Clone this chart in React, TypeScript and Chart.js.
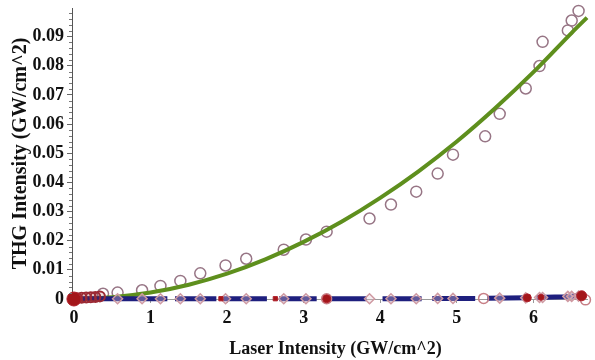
import React, { useEffect, useRef } from "react";
import { Chart, registerables } from "chart.js";

Chart.register(...registerables);

// ---- data ----
const xTickValues = [0, 1, 2, 3, 4, 5, 6];
const yTickValues = [0, 0.01, 0.02, 0.03, 0.04, 0.05, 0.06, 0.07, 0.08, 0.09];
const yTickLabels = ["0", "0.01", "0.02", "0.03", "0.04", "0.05", "0.06", "0.07", "0.08", "0.09"];
const yMinorStep = 0.002;
const xTitle = "Laser Intensity (GW/cm^2)";
const yTitle = "THG Intensity (GW/cm^2)";

// measured THG (open circles)
const measuredX = [0.38, 0.57, 0.89, 1.13, 1.39, 1.65, 1.98, 2.25, 2.74, 3.03, 3.3, 3.86, 4.14, 4.47, 4.75, 4.95, 5.37, 5.56, 5.9, 6.08, 6.12, 6.45, 6.5, 6.59];
const measuredY = [0.0018, 0.0022, 0.003, 0.0045, 0.0062, 0.0088, 0.0115, 0.0138, 0.0169, 0.0204, 0.0231, 0.0276, 0.0324, 0.0368, 0.043, 0.0495, 0.0558, 0.0635, 0.0722, 0.0799, 0.0882, 0.0921, 0.0955, 0.0988];

// fitted curve (green)
const fitX = [0, 0.5, 1, 1.5, 2, 2.5, 3, 3.5, 4, 4.5, 5, 5.5, 6, 6.5, 6.7];
const fitY = [0, 0.0006, 0.0022, 0.0049, 0.0087, 0.0136, 0.0196, 0.0266, 0.0347, 0.0438, 0.054, 0.0654, 0.0778, 0.0913, 0.0965];

// second series (blue line, with gaps)
const blueX = [0, 0.6, 1.22, 1.27, 1.32, 1.86, 1.9, 1.95, 2.52, 2.6, 2.68, 3.17, 3.25, 3.33, 3.82, 3.92, 4.03, 4.54, 4.6, 4.68, 5.24, 5.32, 5.4, 5.92, 5.98, 6.04, 6.4, 6.68];
const blueY = [0.0001, 0.0001, 0.0001, null, 0.0001, 0.0001, null, 0.0001, 0.0001, null, 0.0001, 0.0001, null, 0.0001, 0.0001, null, 0.0001, 0.0001, null, 0.0002, 0.0002, null, 0.0003, 0.0004, null, 0.0005, 0.0008, 0.0013];

// diamonds on the blue series
const diamondX = [0.57, 0.89, 1.13, 1.39, 1.65, 1.98, 2.25, 2.74, 3.03, 3.86, 4.14, 4.47, 4.75, 4.95, 5.56, 5.9, 6.08, 6.12, 6.45, 6.5, 6.59];
const diamondY = [0.0001, 0.0001, 0.0001, 0.0001, 0.0001, 0.0001, 0.0001, 0.0001, 0.0001, 0.0001, 0.0001, 0.0001, 0.0002, 0.0002, 0.0003, 0.0004, 0.0005, 0.0005, 0.0009, 0.0009, 0.001];

// red markers
const redX = [0, 1.92, 2.63, 3.3, 5.92, 6.1, 6.63];
const redY = [0, 0.0001, 0.0001, 0.0001, 0.0004, 0.0006, 0.0011];
const redRadius = [7, 3, 3, 4, 4, 3, 5];
const redStyle = ["circle", "rect", "rect", "circle", "circle", "circle", "circle"];

// dark-red cluster near the origin
const clusterX = [0.04, 0.1, 0.16, 0.22, 0.28, 0.34];
const clusterY = [0.0003, 0.0004, 0.0005, 0.0006, 0.0007, 0.0009];

// open circles on the baseline
const openX = [3.3, 5.35, 6.68];
const openY = [0.0001, 0.0002, -0.0003];

const toPts = (xs: number[], ys: (number | null)[]) => xs.map((x, i) => ({ x, y: ys[i] }));

const FONT = "'Liberation Serif', 'Times New Roman', serif";

const minorTicks = {
  id: "minorTicks",
  afterDraw(chart: any) {
    const y = chart.scales.y;
    const x = chart.scales.x;
    const ctx = chart.ctx;
    ctx.save();
    ctx.strokeStyle = "#777";
    ctx.lineWidth = 1;
    const n = Math.floor(y.max / yMinorStep + 1e-9);
    for (let i = 1; i <= n; i++) {
      if (i % 5 === 0) continue;
      const py = Math.round(y.getPixelForValue(i * yMinorStep)) + 0.5;
      ctx.beginPath();
      ctx.moveTo(y.right - 3, py);
      ctx.lineTo(y.right, py);
      ctx.stroke();
    }
    // x-axis title (the original figure is cropped on the right, so its title sits right of the visible centre)
    ctx.fillStyle = "#111";
    ctx.font = `bold 18px ${FONT}`;
    ctx.textAlign = "center";
    ctx.textBaseline = "middle";
    ctx.fillText(xTitle, (x.left + x.right) / 2 + 6, x.bottom - 11);
    ctx.restore();
  },
};

export default function App() {
  const ref = useRef<HTMLCanvasElement | null>(null);
  useEffect(() => {
    if (!ref.current) return;
    const chart = new Chart(ref.current, {
      type: "scatter",
      data: {
        datasets: [
          {
            label: "red",
            data: toPts(redX, redY),
            pointRadius: redRadius,
            pointStyle: redStyle as any,
            backgroundColor: "#a3161a",
            borderColor: "#b0202a",
            borderWidth: 1,
            showLine: false,
          },
          {
            label: "cluster",
            data: toPts(clusterX, clusterY),
            pointRadius: 5,
            pointStyle: "circle",
            backgroundColor: "rgba(150,40,50,0.15)",
            borderColor: "#9c2a34",
            borderWidth: 2,
            showLine: false,
          },
          {
            label: "open",
            data: toPts(openX, openY),
            pointRadius: 5,
            pointStyle: "circle",
            backgroundColor: "rgba(0,0,0,0)",
            borderColor: "#c77f86",
            borderWidth: 1.5,
            showLine: false,
          },
          {
            label: "diamonds",
            data: toPts(diamondX, diamondY),
            pointRadius: 5,
            pointStyle: "rectRot",
            backgroundColor: "rgba(230,200,210,0.35)",
            borderColor: "#cf9aa2",
            borderWidth: 1.5,
            showLine: false,
          },
          {
            label: "blue",
            data: toPts(blueX, blueY),
            showLine: true,
            spanGaps: false,
            borderColor: "#1e1f7e",
            borderWidth: 5,
            pointRadius: 0,
            borderCapStyle: "butt",
          },
          {
            label: "fit",
            data: toPts(fitX, fitY),
            showLine: true,
            borderColor: "#5e8f1d",
            borderWidth: 4,
            pointRadius: 0,
            cubicInterpolationMode: "monotone",
          },
          {
            label: "measured",
            data: toPts(measuredX, measuredY),
            pointRadius: 5.5,
            pointStyle: "circle",
            backgroundColor: "rgba(0,0,0,0)",
            borderColor: "#977585",
            borderWidth: 1.5,
            showLine: false,
          },
        ],
      },
      options: {
        animation: false,
        responsive: false,
        maintainAspectRatio: false,
        datasets: { scatter: { clip: false } },
        layout: { padding: { top: 4, right: 0, left: 0, bottom: 0 } },
        plugins: { legend: { display: false }, tooltip: { enabled: false } },
        elements: { point: { hoverRadius: 0 } },
        scales: {
          x: {
            type: "linear",
            min: -0.025,
            max: 6.7,
            afterBuildTicks: (s: any) => {
              s.ticks = xTickValues.map((v) => ({ value: v }));
            },
            afterFit: (s: any) => {
              s.height = 61;
              s.paddingLeft = 0;
              s.paddingRight = 0;
            },
            ticks: {
              color: "#111",
              font: { family: FONT, size: 18, weight: "bold" },
              padding: 5,
              maxRotation: 0,
              autoSkip: false,
              callback: (v: any) => String(v),
            },
            grid: { drawOnChartArea: false, drawTicks: true, tickLength: 4, color: "#999" },
            border: { display: true, color: "#9a9a9a", width: 1 },
            title: { display: false },
          },
          y: {
            type: "linear",
            min: 0,
            max: 0.0998,
            afterBuildTicks: (s: any) => {
              s.ticks = yTickValues.map((v) => ({ value: v }));
            },
            afterFit: (s: any) => {
              s.width = 72;
              s.paddingTop = 0;
              s.paddingBottom = 0;
            },
            ticks: {
              color: "#111",
              font: { family: FONT, size: 18, weight: "bold" },
              padding: 3,
              autoSkip: false,
              callback: (v: any, i: number) => yTickLabels[i],
            },
            grid: { drawOnChartArea: false, drawTicks: true, tickLength: 5, color: "#666" },
            border: { display: true, color: "#555", width: 1 },
            title: {
              display: true,
              text: yTitle,
              color: "#111",
              font: { family: FONT, size: 20, weight: "bold" },
              padding: { top: 9, bottom: 0 },
            },
          },
        },
      },
      plugins: [minorTicks],
    } as any);
    return () => chart.destroy();
  }, []);
  return (
    <div style={{ position: "fixed", left: 0, top: 0, width: 595, height: 360, background: "#fff" }}>
      <canvas ref={ref} width={595} height={360} style={{ width: 595, height: 360, display: "block" }} />
    </div>
  );
}
